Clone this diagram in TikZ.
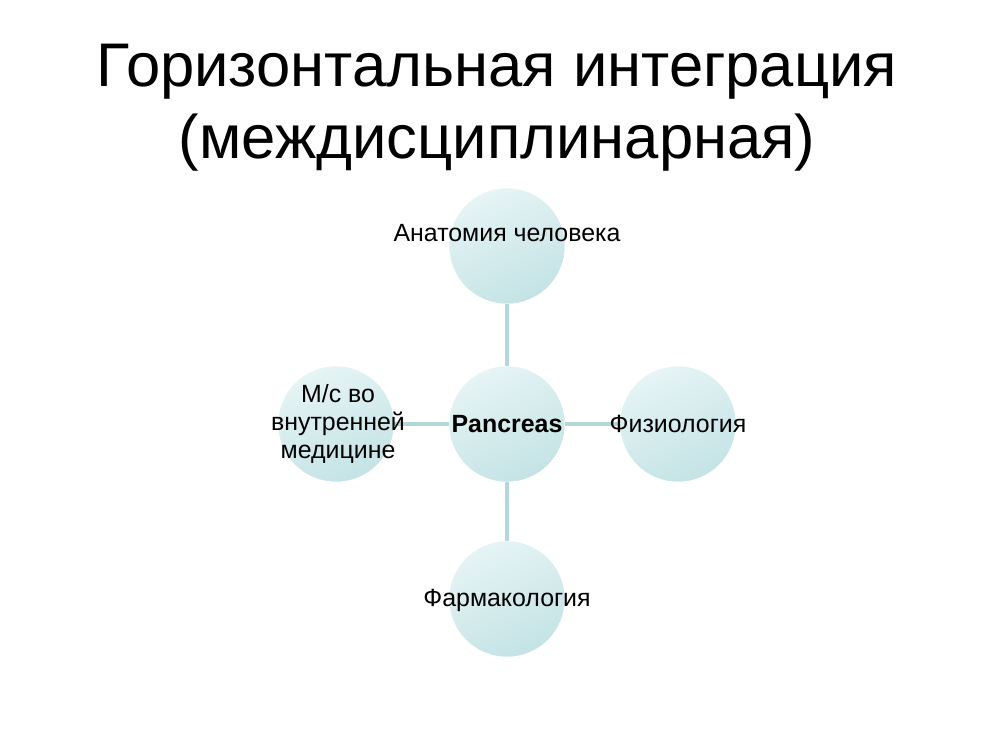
\documentclass[tikz,border=0pt]{standalone}
\usepackage{fontspec}
\setmainfont{Liberation Sans}
\definecolor{bubblelight}{HTML}{E6F4F5}
\definecolor{bubbledark}{HTML}{C4E3E5}
\definecolor{linkline}{HTML}{B3D8DB}
\tikzset{
	bubble/.style={circle, minimum size=115*0.254mm, inner sep=0pt,
		top color=bubblelight, bottom color=bubbledark, shading angle=25, draw=none},
	txt/.style={font=\fontsize{18}{20.5}\selectfont, align=center, inner sep=0pt},
	link/.style={draw=linkline, line width=2.8pt}
}
\begin{document}
\begin{tikzpicture}[x=0.254mm, y=-0.254mm]
			\useasboundingbox[fill=white] (0,0) rectangle (1000,750);
			% title
			\node[font=\fontsize{44.5}{52}\selectfont, align=center] (title) at (497,108)
			{Горизонтальная интеграция\\(междисциплинарная)};
			% circles
			\node[bubble] (pan) at (507,424) {};
			\node[bubble] (ana) at (507,246) {};
			\node[bubble] (far) at (507,599) {};
			\node[bubble] (med) at (336,424) {};
			\node[bubble] (fiz) at (678,424) {};
			% links
			\foreach \n in {ana,far,med,fiz}
				\draw[link] (pan) -- (\n);
			\foreach \n in {pan,ana,far,med,fiz}
				\node[bubble] at (\n) {};
			% labels
			\node[txt] (tana) at (507,233) {Анатомия человека};
			\node[txt] (tfar) at (507,600) {Фармакология};
			\node[txt] (tfiz) at (678,424) {Физиология};
			\node[txt] (tmed) at (338,424) {М/с во\\внутренней\\медицине};
			\node[txt, font=\fontsize{18}{20.5}\selectfont\bfseries] (tpan) at (507,424) {Pancreas};
\end{tikzpicture}
\end{document}
